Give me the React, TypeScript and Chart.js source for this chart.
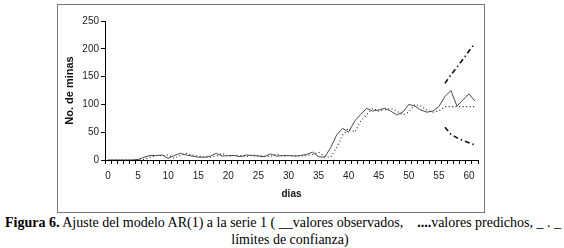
import React, { useEffect, useRef } from "react";
import { Chart, registerables } from "chart.js";

Chart.register(...registerables);

const days: string[] = [
  "0","1","2","3","4","5","6","7","8","9","10","11","12","13","14","15","16","17","18","19","20",
  "21","22","23","24","25","26","27","28","29","30","31","32","33","34","35","36","37","38","39","40",
  "41","42","43","44","45","46","47","48","49","50","51","52","53","54","55","56","57","58","59","60","61",
];

const observados: number[] = [
  0, 0, 0, 0, 0, 1, 5, 8, 8, 9, 3, 8, 12, 9, 7, 5, 5, 7, 12, 7, 8,
  8, 6, 9, 8, 7, 6, 11, 7, 8, 8, 7, 8, 10, 14, 6, 5, 22, 45, 57, 50,
  70, 82, 93, 88, 90, 93, 88, 81, 86, 100, 97, 90, 86, 88, 96, 114, 125, 97, 108, 119, 106,
];

const predichos: number[] = [
  0, 0, 0, 0, 0, 0, 1, 5, 8, 8, 9, 3, 8, 12, 9, 7, 5, 5, 7, 12, 7,
  8, 8, 6, 9, 8, 7, 6, 11, 7, 8, 8, 7, 8, 10, 14, 6, 5, 22, 45, 57,
  50, 70, 82, 93, 88, 90, 93, 88, 81, 86, 100, 97, 90, 86, 88, 96, 96, 96, 96, 96, 96,
];

const limiteSup: (number | null)[] = [
  null, null, null, null, null, null, null, null, null, null, null, null, null, null, null, null, null, null, null, null, null,
  null, null, null, null, null, null, null, null, null, null, null, null, null, null, null, null, null, null, null, null,
  null, null, null, null, null, null, null, null, null, null, null, null, null, null, null, 138, 153, 167, 181, 196, 210,
];

const limiteInf: (number | null)[] = [
  null, null, null, null, null, null, null, null, null, null, null, null, null, null, null, null, null, null, null, null, null,
  null, null, null, null, null, null, null, null, null, null, null, null, null, null, null, null, null, null, null, null,
  null, null, null, null, null, null, null, null, null, null, null, null, null, null, null, 59, 46, 40, 35, 31, 27,
];

const yTicks: number[] = [0, 50, 100, 150, 200, 250];

export default function App() {
  const ref = useRef<HTMLCanvasElement | null>(null);

  useEffect(() => {
    if (!ref.current) return;
    const tickFont = { family: "'Liberation Sans', Arial, sans-serif", size: 10 };
    const chart = new Chart(ref.current, {
      type: "line",
      data: {
        labels: days,
        datasets: [
          {
            label: "valores observados",
            data: observados,
            borderColor: "#4a4a4a",
            borderWidth: 1,
            pointRadius: 0,
            tension: 0,
          },
          {
            label: "valores predichos",
            data: predichos,
            borderColor: "#222",
            borderWidth: 1.1,
            borderDash: [1, 2.5],
            pointRadius: 0,
            tension: 0,
          },
          {
            label: "límite superior",
            data: limiteSup,
            borderColor: "#111",
            borderWidth: 1.6,
            borderDash: [5, 3, 1.5, 3],
            pointRadius: 0,
            tension: 0,
          },
          {
            label: "límite inferior",
            data: limiteInf,
            borderColor: "#111",
            borderWidth: 1.6,
            borderDash: [5, 3, 1.5, 3],
            pointRadius: 0,
            tension: 0,
          },
        ],
      },
      options: {
        responsive: false,
        animation: false,
        devicePixelRatio: 1,
        layout: { padding: { top: 16, right: 6, bottom: 0, left: 0 } },
        plugins: { legend: { display: false }, tooltip: { enabled: false } },
        scales: {
          x: {
            type: "category",
            offset: true,
            grid: {
              offset: true,
              drawOnChartArea: false,
              drawTicks: true,
              tickLength: 4,
              color: "#000",
            },
            border: { display: true, color: "#000", width: 1 },
            ticks: {
              autoSkip: false,
              maxRotation: 0,
              minRotation: 0,
              padding: 6,
              color: "#222",
              font: tickFont,
              callback: (_v: any, idx: number) => (idx % 5 === 0 ? days[idx] : ""),
            },
            title: {
              display: true,
              text: "dias",
              color: "#111",
              font: { family: "'Liberation Sans', Arial, sans-serif", size: 10, weight: "bold" },
              padding: { top: 0, bottom: 12 },
            },
            afterFit: (scale: any) => {
              scale.height = 52;
            },
          },
          y: {
            min: 0,
            max: 250,
            afterBuildTicks: (scale: any) => {
              scale.ticks = yTicks.map((v) => ({ value: v }));
            },
            grid: {
              drawOnChartArea: false,
              drawTicks: true,
              tickLength: 4,
              color: "#000",
            },
            border: { display: true, color: "#000", width: 1 },
            ticks: {
              padding: 2,
              color: "#222",
              font: tickFont,
            },
            title: {
              display: true,
              text: "No. de minas",
              color: "#111",
              font: { family: "'Liberation Sans', Arial, sans-serif", size: 11, weight: "bold" },
              padding: { top: 5, bottom: 0 },
            },
            afterFit: (scale: any) => {
              scale.width = 47;
            },
          },
        },
      },
    });
    return () => chart.destroy();
  }, []);

  return (
    <div
      style={{
        position: "absolute",
        left: 0,
        top: 0,
        width: 564,
        height: 248,
        background: "#fff",
        overflow: "hidden",
      }}
    >
      <div
        style={{
          position: "absolute",
          left: 57,
          top: 4,
          width: 426,
          height: 207,
          border: "1px solid #777",
        }}
      >
        <canvas ref={ref} width={426} height={207} style={{ display: "block", width: 426, height: 207 }} />
      </div>
      <div
        style={{
          position: "absolute",
          left: 5,
          top: 215,
          width: 560,
          fontFamily: "'Liberation Serif', 'Times New Roman', serif",
          fontSize: 14,
          lineHeight: "16px",
          whiteSpace: "nowrap",
          color: "#000",
        }}
      >
        <b>Figura 6.</b> Ajuste del modelo AR(1) a la serie 1 ( __valores observados,&nbsp;&nbsp;&nbsp; <b>....</b>valores predichos, _ . _
      </div>
      <div
        style={{
          position: "absolute",
          left: 0,
          top: 232,
          width: 580,
          textAlign: "center",
          fontFamily: "'Liberation Serif', 'Times New Roman', serif",
          fontSize: 14,
          lineHeight: "16px",
          whiteSpace: "nowrap",
          color: "#000",
        }}
      >
        límites de confianza)
      </div>
    </div>
  );
}
